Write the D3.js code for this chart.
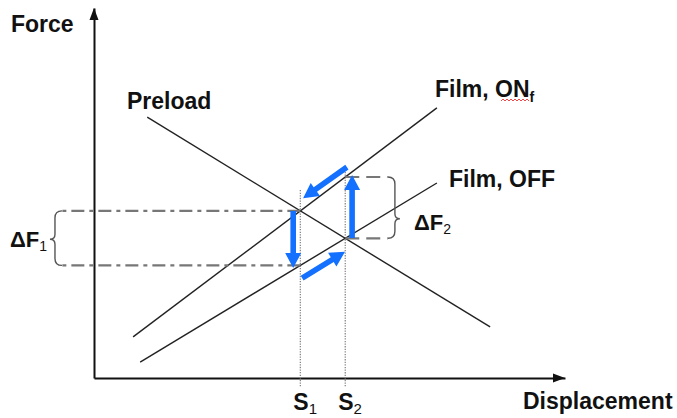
<!DOCTYPE html>
<html>
<head>
<meta charset="utf-8">
<script src="https://cdn.jsdelivr.net/npm/d3@7"></script>
<style>
  body { margin: 0; background: #fff; }
  text { font-family: "Liberation Sans", Arial, sans-serif; fill: #111; }
</style>
</head>
<body>
<svg id="svg_chart" width="677" height="418"></svg>
<script>

// characteristic lines, in displacement / force units (0..100)
var lineNames  = ["Preload", "Film, ON", "Film, OFF"];
var lineStartX = [11.3, 8.3, 9.8];
var lineStartF = [70.5, 11.1, 4.3];
var lineEndX   = [84.1, 72.8, 72.8];
var lineEndF   = [13.8, 73.0, 52.7];

// blue cycle arrows (down, right-up, up, left-down)
var arrowFromX = [42.3, 44.2, 54.8, 53.7];
var arrowFromF = [45.1, 27.0, 37.8, 57.0];
var arrowToX   = [42.3, 53.3, 54.8, 44.4];
var arrowToF   = [29.7, 34.1, 54.9, 48.6];

// S1 / S2 guides
var guideLabels = ["1", "2"];
var guideTopF   = [50.8, 55.7];
var guideLowF   = -2.2;

// brace positions (displacement units) and where the brace tip sits
var braceX = [-6.8, 62.4];
var braceTip = [0.52, 0.68];
var braceLabels = ["1", "2"];

var width = 677, height = 418

var svg = d3.select("#svg_chart")

var x = d3.scaleLinear().domain([0, 100]).range([94, 565])
var y = d3.scaleLinear().domain([0, 100]).range([378, 8])

function lineAt(i, xv) {
  var t = (xv - lineStartX[i]) / (lineEndX[i] - lineStartX[i])
  return lineStartF[i] + t * (lineEndF[i] - lineStartF[i])
}

// S1 = Preload x Film ON, S2 = Preload x Film OFF
function crossing(a, b) {
  var lo = 0, hi = 100
  for (var k = 0; k < 60; k++) {
    var mid = (lo + hi) / 2
    if ((lineAt(a, lo) - lineAt(b, lo)) * (lineAt(a, mid) - lineAt(b, mid)) <= 0) hi = mid
    else lo = mid
  }
  return (lo + hi) / 2
}
var S = [crossing(0, 1), crossing(0, 2)]

// axes
var gx = svg.append("g").attr("transform", "translate(0," + y(0) + ")")
  .call(d3.axisBottom(x).ticks(0).tickSizeOuter(0))
var gy = svg.append("g").attr("transform", "translate(" + x(0) + ",0)")
  .call(d3.axisLeft(y).ticks(0).tickSizeOuter(0))
svg.selectAll(".domain").attr("stroke", "#111").attr("stroke-width", 2)

svg.append("path")
  .attr("d", "M" + x(100) + "," + y(0) + "l-12,-4.5v9z").attr("fill", "#111")
svg.append("path")
  .attr("d", "M" + x(0) + "," + y(100) + "l-4.5,12h9z").attr("fill", "#111")

// dotted guides at S1, S2
svg.append("g").selectAll("line")
  .data(S).enter().append("line")
  .attr("x1", d => x(d)).attr("x2", d => x(d))
  .attr("y1", (d, i) => y(guideTopF[i])).attr("y2", y(guideLowF))
  .attr("stroke", "#888").attr("stroke-width", 1.3)
  .attr("stroke-dasharray", "1.3,1.3")

// main lines
svg.append("g").selectAll("line")
  .data(lineNames).enter().append("line")
  .attr("x1", (d, i) => x(lineStartX[i])).attr("y1", (d, i) => y(lineStartF[i]))
  .attr("x2", (d, i) => x(lineEndX[i])).attr("y2", (d, i) => y(lineEndF[i]))
  .attr("stroke", "#222").attr("stroke-width", 1.4)

// delta F braces
function bracePath(bx, yTop, yBot, dir, frac) {
  var r = 7, tip = 5
  var ym = yTop + (yBot - yTop) * frac
  var xv = bx + dir * r
  return "M" + bx + "," + yTop +
    "Q" + xv + "," + yTop + " " + xv + "," + (yTop + r) +
    "V" + (ym - 5) +
    "Q" + xv + "," + ym + " " + (xv + dir * tip) + "," + ym +
    "Q" + xv + "," + ym + " " + xv + "," + (ym + 5) +
    "V" + (yBot - r) +
    "Q" + xv + "," + yBot + " " + bx + "," + yBot
}

var braces = svg.append("g")
S.forEach(function(s, i) {
  var fOn = lineAt(1, s), fOff = lineAt(2, s)
  var dir = i == 0 ? -1 : 1
  var bx = x(braceX[i])
  braces.selectAll(null).data([fOn, fOff]).enter().append("line")
    .attr("x1", x(s)).attr("x2", bx)
    .attr("y1", d => y(d)).attr("y2", d => y(d))
    .attr("stroke", "#777").attr("stroke-width", 2.2)
    .attr("stroke-dasharray", i == 0 ? "13,5,4,5" : "14,7")
  braces.append("path")
    .attr("d", bracePath(bx, y(fOn), y(fOff), dir, braceTip[i]))
    .attr("fill", "none").attr("stroke", "#555").attr("stroke-width", 1.4)
})

// blue arrows
function arrowPath(x0, y0, x1, y1) {
  var dx = x1 - x0, dy = y1 - y0, len = Math.sqrt(dx * dx + dy * dy)
  var ux = dx / len, uy = dy / len, nx = -uy, ny = ux
  var hl = 15, hw = 8, sw = 2.8
  var bx = x1 - ux * hl, by = y1 - uy * hl
  var pts = [
    [x0 + nx * sw, y0 + ny * sw], [bx + nx * sw, by + ny * sw], [bx + nx * hw, by + ny * hw],
    [x1, y1],
    [bx - nx * hw, by - ny * hw], [bx - nx * sw, by - ny * sw], [x0 - nx * sw, y0 - ny * sw]
  ]
  return "M" + pts.map(p => p[0].toFixed(1) + "," + p[1].toFixed(1)).join("L") + "Z"
}

svg.append("g").selectAll("path")
  .data(arrowFromX).enter().append("path")
  .attr("d", (d, i) => arrowPath(x(arrowFromX[i]), y(arrowFromF[i]), x(arrowToX[i]), y(arrowToF[i])))
  .attr("fill", "#1470ff")

// labels
var labels = svg.append("g").attr("font-weight", "bold").attr("font-size", 23)

labels.append("text").attr("x", 11).attr("y", 32).text("Force")
labels.append("text").attr("x", 523).attr("y", 409).text("Displacement")
labels.append("text").attr("x", 127).attr("y", 109).text(lineNames[0])
labels.append("text").attr("x", 449).attr("y", 187).text(lineNames[2])

var onLabel = labels.append("text").attr("x", 435).attr("y", 97)
onLabel.append("tspan").text(lineNames[1])
onLabel.append("tspan").attr("font-size", 14).attr("dy", 5).text("f")

// spell-check squiggle under "ON"
var sq = "M501,101"
for (var k = 0; k < 7; k++) sq += "l2,-2l2,2"
svg.append("path").attr("d", sq).attr("fill", "none")
  .attr("stroke", "#e33").attr("stroke-width", 0.9)

S.forEach(function(s, i) {
  var t = labels.append("text").attr("x", x(s) - 7).attr("y", 410)
  t.append("tspan").text("S")
  t.append("tspan").attr("font-size", 15).attr("font-weight", "normal").attr("dy", 4).text(guideLabels[i])
})

var dfPos = [[10, 247], [414, 230]]
braceLabels.forEach(function(b, i) {
  var t = labels.append("text").attr("x", dfPos[i][0]).attr("y", dfPos[i][1])
    .attr("font-size", 22)
  t.append("tspan").text("ΔF")
  t.append("tspan").attr("font-size", 14).attr("font-weight", "normal").attr("dy", 4).text(b)
})

</script>
</body>
</html>
